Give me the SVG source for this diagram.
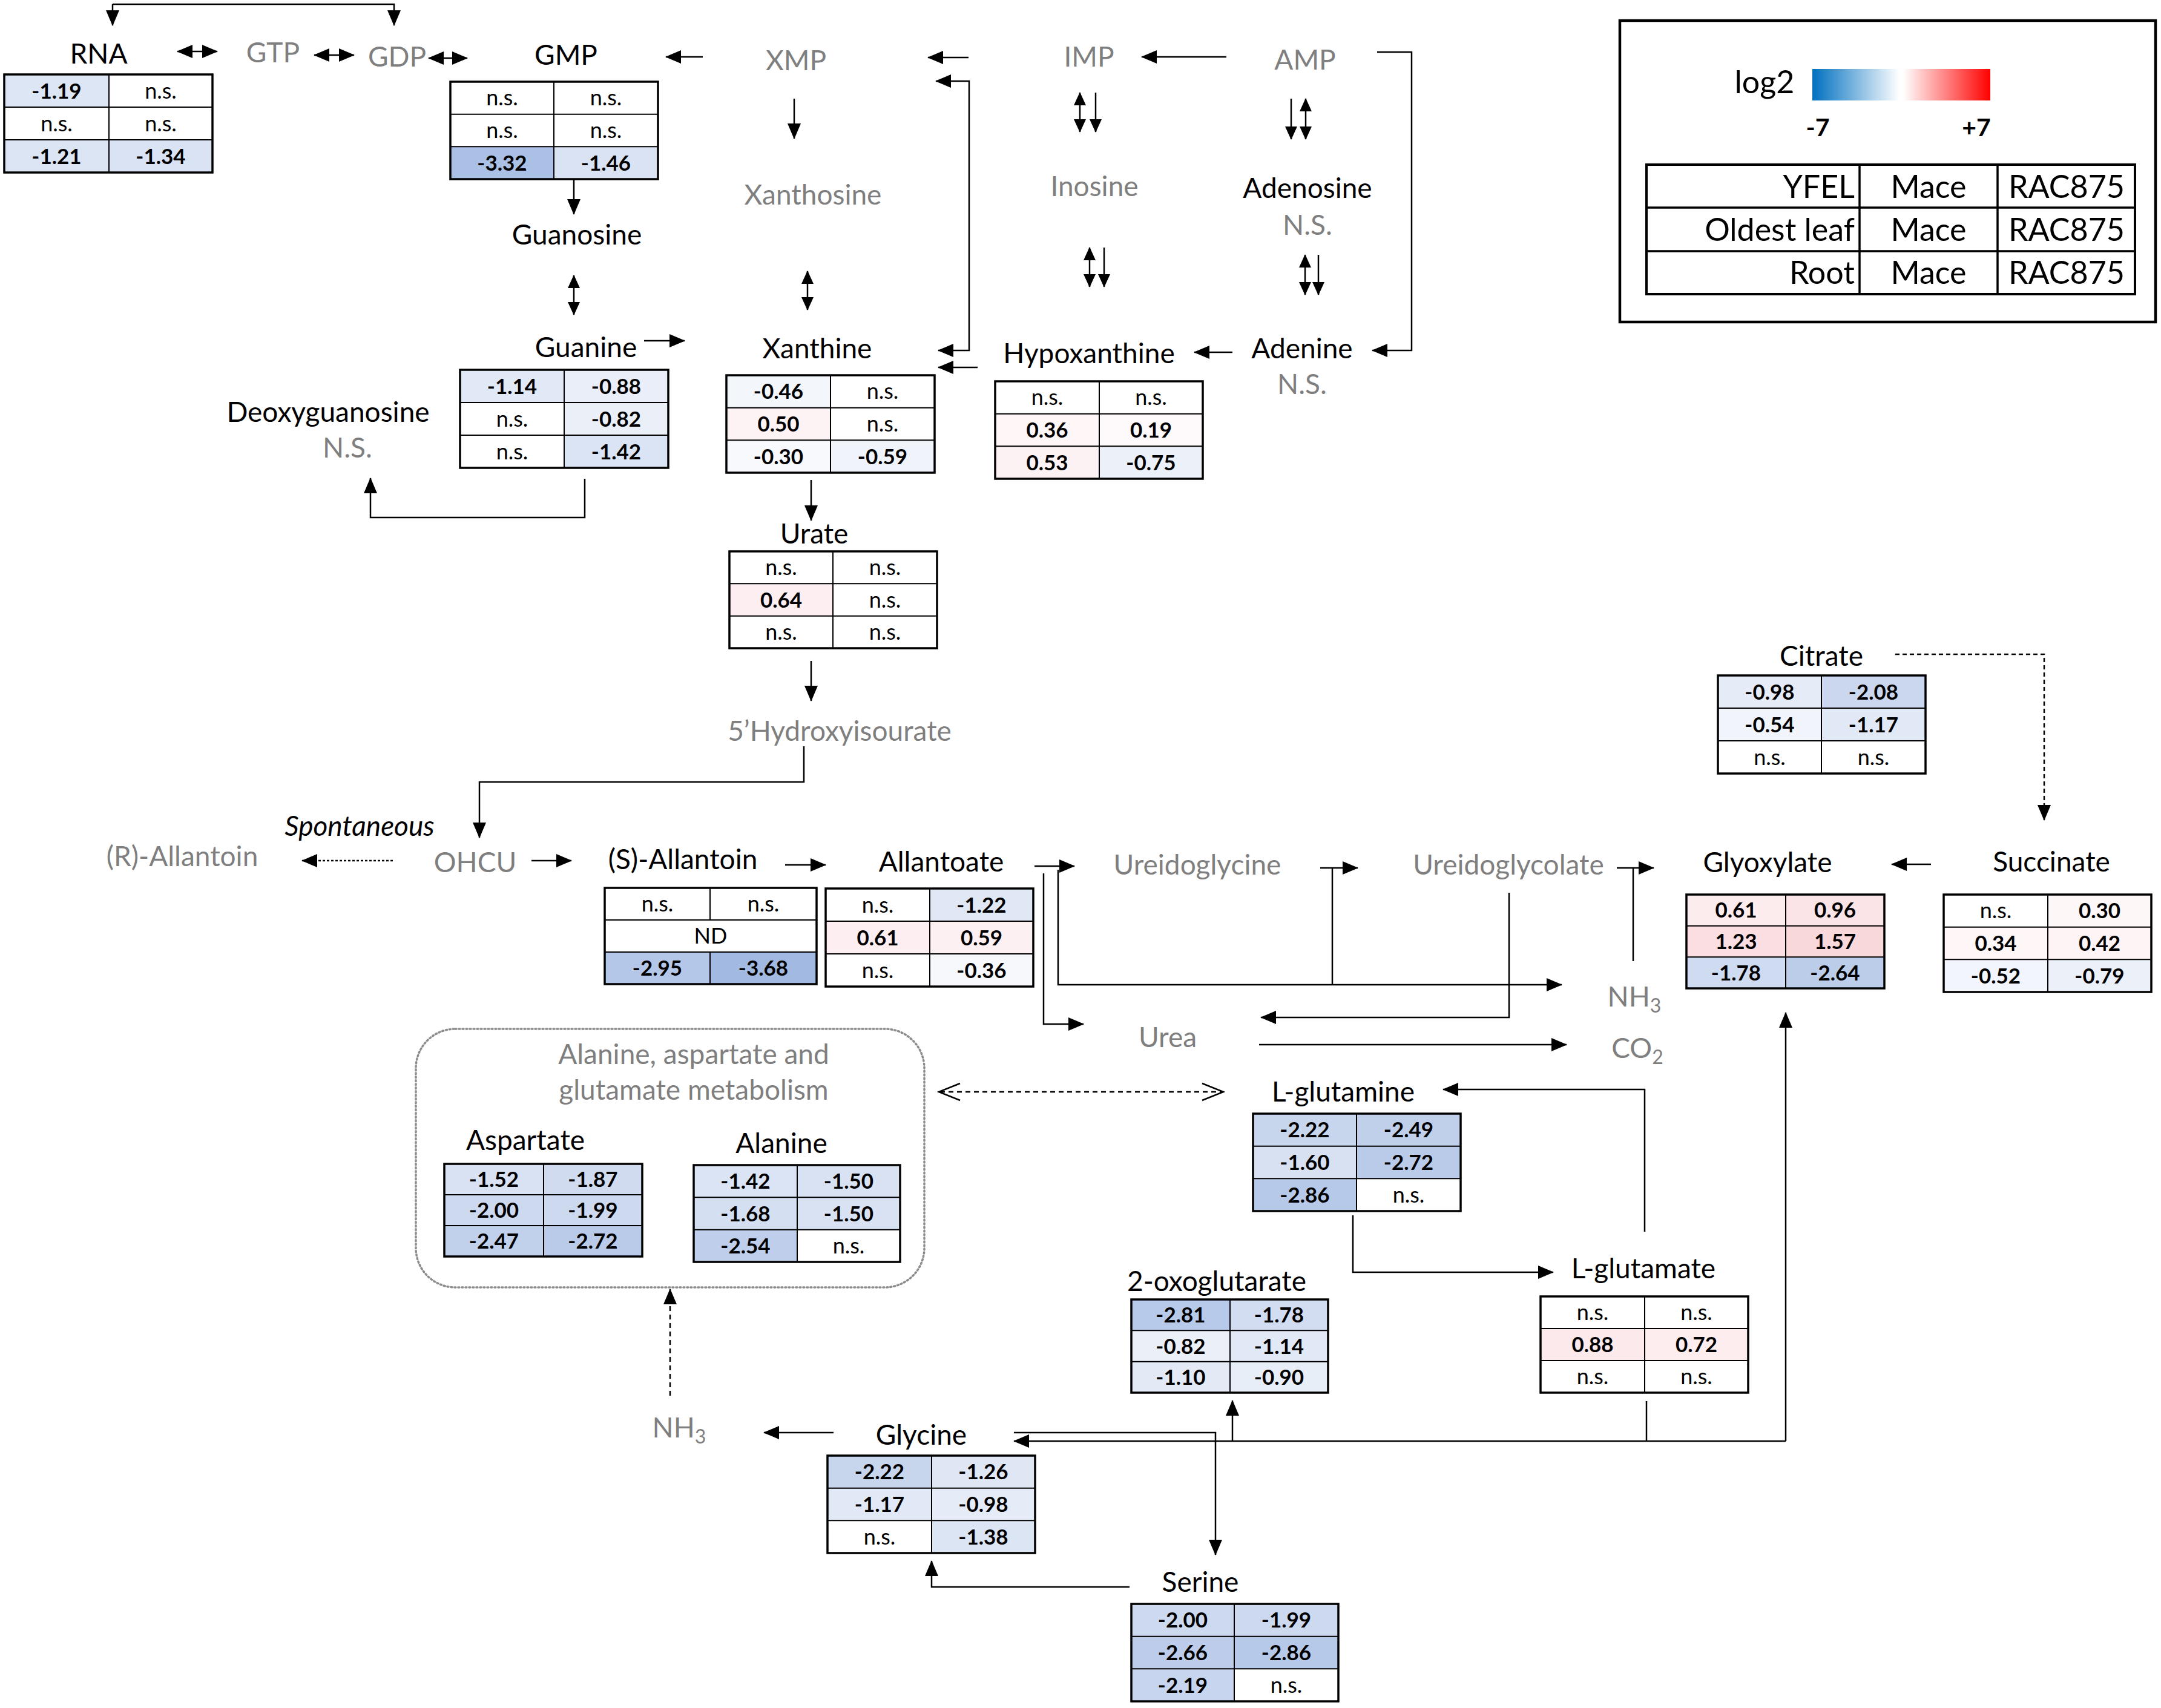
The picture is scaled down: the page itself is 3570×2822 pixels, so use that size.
<svg xmlns="http://www.w3.org/2000/svg" width="3570" height="2822" viewBox="0 0 3570 2822">
<defs>
<style>
text{font-family:Lato,"Liberation Sans",sans-serif}
.lb{font-size:46px;text-anchor:middle;fill:#000}
.g{fill:#7f7f7f}
.v{font-size:35px;font-weight:bold;text-anchor:middle;fill:#000}
.n{font-size:36px;font-weight:normal;text-anchor:middle;fill:#000}
.ob{fill:none;stroke:#000;stroke-width:3.5}
.il{stroke:#000;stroke-width:2;fill:none}
.c{fill:none;stroke:#000;stroke-width:2.5}
.lg{font-size:52px;fill:#000}
</style>
<marker id="ah" markerUnits="userSpaceOnUse" markerWidth="26" markerHeight="22" viewBox="0 0 26 22" refX="25" refY="11" orient="auto-start-reverse"><path d="M0,0 L26,11 L0,22 z" fill="#000"/></marker>
<marker id="as" markerUnits="userSpaceOnUse" markerWidth="22" markerHeight="20" viewBox="0 0 22 20" refX="21" refY="10" orient="auto-start-reverse"><path d="M0,0 L22,10 L0,20 z" fill="#000"/></marker>
<linearGradient id="grad" x1="0" y1="0" x2="1" y2="0">
<stop offset="0" stop-color="#0070c0"/>
<stop offset="0.49" stop-color="#ffffff"/>
<stop offset="0.51" stop-color="#ffffff"/>
<stop offset="1" stop-color="#ff0000"/>
</linearGradient>
</defs>
<rect width="3570" height="2822" fill="#fff"/>

<g id="connectors">
<path class="c" d="M186,7 V42" marker-end="url(#ah)"/>
<path class="c" d="M186,7 H651 V42" marker-end="url(#ah)"/>
<path class="c" d="M293,85 H359" marker-start="url(#ah)" marker-end="url(#ah)" stroke-width="4"/>
<path class="c" d="M519,91 H585" marker-start="url(#ah)" marker-end="url(#ah)" stroke-width="4"/>
<path class="c" d="M708,96 H772" marker-start="url(#ah)" marker-end="url(#ah)" stroke-width="4"/>
<path class="c" d="M1161,94 H1100" marker-end="url(#ah)"/>
<path class="c" d="M1600,95 H1533" marker-end="url(#ah)"/>
<path class="c" d="M2026,94 H1886" marker-end="url(#ah)"/>
<path class="c" d="M1546,134 H1601 V579 H1550" marker-start="url(#ah)" marker-end="url(#ah)"/>
<path class="c" d="M1615,607 H1550" marker-end="url(#ah)"/>
<path class="c" d="M2275,86 H2332 V579 H2267" marker-end="url(#ah)"/>
<path class="c" d="M2036,582 H1973" marker-end="url(#ah)"/>
<path class="c" d="M948,296 V354" marker-end="url(#ah)"/>
<path class="c" d="M948,455 V520" marker-start="url(#as)" marker-end="url(#as)"/>
<path class="c" d="M1312,163 V229" marker-end="url(#ah)"/>
<path class="c" d="M1334,448 V512" marker-start="url(#as)" marker-end="url(#as)"/>
<path class="c" d="M1784,153 V218" marker-start="url(#as)" marker-end="url(#as)"/>
<path class="c" d="M1810,153 V218" marker-end="url(#as)"/>
<path class="c" d="M2133,163 V230" marker-end="url(#as)"/>
<path class="c" d="M2157,163 V230" marker-start="url(#as)" marker-end="url(#as)"/>
<path class="c" d="M1800,409 V474" marker-start="url(#as)" marker-end="url(#as)"/>
<path class="c" d="M1824,409 V474" marker-end="url(#as)"/>
<path class="c" d="M2156,421 V487" marker-start="url(#as)" marker-end="url(#as)"/>
<path class="c" d="M2178,421 V487" marker-end="url(#as)"/>
<path class="c" d="M1064,563 H1131" marker-end="url(#ah)"/>
<path class="c" d="M966,791 V855 H612 V790" marker-end="url(#ah)"/>
<path class="c" d="M1340,793 V860" marker-end="url(#ah)"/>
<path class="c" d="M1340,1092 V1158" marker-end="url(#ah)"/>
<path class="c" d="M1328,1233 V1292 H792 V1384" marker-end="url(#ah)"/>
<path class="c" d="M649,1422 H499" stroke-dasharray="4 3" marker-end="url(#ah)"/>
<path class="c" d="M878,1422 H944" marker-end="url(#ah)" stroke-width="3.5"/>
<path class="c" d="M1297,1429 H1364" marker-end="url(#ah)" stroke-width="3.5"/>
<path class="c" d="M1709,1431 H1775" marker-end="url(#ah)" stroke-width="3"/>
<path class="c" d="M1724,1443 V1692 H1790" marker-end="url(#ah)"/>
<path class="c" d="M1748,1437 V1627 H2580" marker-end="url(#ah)"/>
<path class="c" d="M2181,1434 H2243" marker-end="url(#ah)"/>
<path class="c" d="M2201,1434 V1627"/>
<path class="c" d="M2493,1475 V1681 H2083" marker-end="url(#ah)"/>
<path class="c" d="M2671,1434 H2732" marker-end="url(#ah)"/>
<path class="c" d="M2698,1434 V1588"/>
<path class="c" d="M2080,1726 H2588" marker-end="url(#ah)"/>
<path class="c" d="M3131,1081 H3377 V1355" stroke-dasharray="7 5" marker-end="url(#ah)"/>
<path class="c" d="M3190,1428 H3125" marker-end="url(#ah)"/>
<path class="c" d="M1553,1804 H2019" stroke-dasharray="8 6"/>
<path class="c" d="M1586,1790 L1551,1804 L1586,1818"/>
<path class="c" d="M1986,1790 L2021,1804 L1986,1818"/>
<path class="c" d="M1107,2306 V2130" stroke-dasharray="8 6" marker-end="url(#ah)"/>
<path class="c" d="M1377,2367 H1262" marker-end="url(#ah)"/>
<path class="c" d="M2717,2035 V1800 H2384" marker-end="url(#ah)"/>
<path class="c" d="M2235,2008 V2102 H2566" marker-end="url(#ah)"/>
<path class="c" d="M2950,2381 H1675" marker-end="url(#ah)"/>
<path class="c" d="M1675,2367 H2008 V2569" marker-end="url(#ah)"/>
<path class="c" d="M2950,2381 V1673" marker-end="url(#ah)"/>
<path class="c" d="M2036,2381 V2314" marker-end="url(#ah)"/>
<path class="c" d="M2720,2315 V2381"/>
<path class="c" d="M1866,2622 H1539 V2579" marker-end="url(#ah)"/>
</g>

<g id="legend">
<rect x="2676" y="34" width="885" height="498" fill="none" stroke="#000" stroke-width="4.5"/>
<text class="lg" x="2915" y="154" text-anchor="middle">log2</text>
<rect x="2994" y="114" width="294" height="52" fill="url(#grad)"/>
<text x="3003" y="225" font-size="41" font-weight="bold" text-anchor="middle">-7</text>
<text x="3265" y="225" font-size="41" font-weight="bold" text-anchor="middle">+7</text>
<rect x="2720" y="272" width="807" height="214" fill="none" stroke="#000" stroke-width="4"/>
<path d="M3072,272V486M3300,272V486M2720,343H3527M2720,415H3527" stroke="#000" stroke-width="3.5" fill="none"/>
<text class="lg" x="3064" y="327" text-anchor="end">YFEL</text>
<text class="lg" x="3064" y="398" text-anchor="end">Oldest leaf</text>
<text class="lg" x="3064" y="469" text-anchor="end">Root</text>
<text class="lg" x="3186" y="327" text-anchor="middle">Mace</text>
<text class="lg" x="3186" y="398" text-anchor="middle">Mace</text>
<text class="lg" x="3186" y="469" text-anchor="middle">Mace</text>
<text class="lg" x="3414" y="327" text-anchor="middle">RAC875</text>
<text class="lg" x="3414" y="398" text-anchor="middle">RAC875</text>
<text class="lg" x="3414" y="469" text-anchor="middle">RAC875</text>
</g>

<g id="rna">
<text class="lb" x="163" y="105">RNA</text>
<rect x="7" y="123" width="173" height="54" fill="#dde6f4"/>
<rect x="7" y="231" width="173" height="54" fill="#dce5f4"/>
<rect x="180" y="231" width="171" height="54" fill="#d9e3f3"/>
<rect class="ob" x="7" y="123" width="344" height="162"/>
<path class="il" d="M180,123V285M7,177H351M7,231H351"/>
<text class="v" x="93.5" y="162.5">-1.19</text>
<text class="n" x="265.5" y="162.5">n.s.</text>
<text class="n" x="93.5" y="216.5">n.s.</text>
<text class="n" x="265.5" y="216.5">n.s.</text>
<text class="v" x="93.5" y="270.5">-1.21</text>
<text class="v" x="265.5" y="270.5">-1.34</text>
</g>

<g id="gtp"><text class="lb g" x="451" y="103">GTP</text></g>
<g id="gdp"><text class="lb g" x="656" y="110">GDP</text></g>

<g id="gmp">
<text class="lb" x="935" y="107">GMP</text>
<rect x="744" y="242.3" width="171" height="53.7" fill="#abc0e5"/>
<rect x="915" y="242.3" width="172" height="53.7" fill="#dae3f3"/>
<rect class="ob" x="744" y="135" width="343" height="161"/>
<path class="il" d="M915,135V296M744,188.7H1087M744,242.3H1087"/>
<text class="n" x="829.5" y="174.3">n.s.</text>
<text class="n" x="1001" y="174.3">n.s.</text>
<text class="n" x="829.5" y="228">n.s.</text>
<text class="n" x="1001" y="228">n.s.</text>
<text class="v" x="829.5" y="281.7">-3.32</text>
<text class="v" x="1001" y="281.7">-1.46</text>
</g>

<g id="xmp"><text class="lb g" x="1315" y="116">XMP</text></g>
<g id="imp"><text class="lb g" x="1799" y="110">IMP</text></g>
<g id="amp"><text class="lb g" x="2156" y="115">AMP</text></g>
<g id="guanosine"><text class="lb" x="953" y="404">Guanosine</text></g>
<g id="xanthosine"><text class="lb g" x="1343" y="338">Xanthosine</text></g>
<g id="inosine"><text class="lb g" x="1808" y="324">Inosine</text></g>
<g id="adenosine">
<text class="lb" x="2160" y="327">Adenosine</text>
<text class="lb g" x="2160" y="388">N.S.</text>
</g>

<g id="guanine">
<text class="lb" x="968" y="590">Guanine</text>
<rect x="760" y="611" width="172" height="54" fill="#e2e9f6"/>
<rect x="932" y="611" width="172" height="54" fill="#e9eef8"/>
<rect x="932" y="665" width="172" height="54" fill="#eaeff8"/>
<rect x="932" y="719" width="172" height="54" fill="#dbe4f4"/>
<rect class="ob" x="760" y="611" width="344" height="162"/>
<path class="il" d="M932,611V773M760,665H1104M760,719H1104"/>
<text class="v" x="846" y="650.5">-1.14</text>
<text class="v" x="1018" y="650.5">-0.88</text>
<text class="n" x="846" y="704.5">n.s.</text>
<text class="v" x="1018" y="704.5">-0.82</text>
<text class="n" x="846" y="758.5">n.s.</text>
<text class="v" x="1018" y="758.5">-1.42</text>
</g>

<g id="deoxyguanosine">
<text class="lb" x="542" y="697">Deoxyguanosine</text>
<text class="lb g" x="574" y="756">N.S.</text>
</g>

<g id="xanthine">
<text class="lb" x="1350" y="592">Xanthine</text>
<rect x="1200" y="620" width="172" height="53.7" fill="#f3f6fb"/>
<rect x="1200" y="673.7" width="172" height="53.6" fill="#fdf2f4"/>
<rect x="1200" y="727.3" width="172" height="53.7" fill="#f7f9fd"/>
<rect x="1372" y="727.3" width="172" height="53.7" fill="#f0f4fa"/>
<rect class="ob" x="1200" y="620" width="344" height="161"/>
<path class="il" d="M1372,620V781M1200,673.7H1544M1200,727.3H1544"/>
<text class="v" x="1286" y="659.3">-0.46</text>
<text class="n" x="1458" y="659.3">n.s.</text>
<text class="v" x="1286" y="713">0.50</text>
<text class="n" x="1458" y="713">n.s.</text>
<text class="v" x="1286" y="766.7">-0.30</text>
<text class="v" x="1458" y="766.7">-0.59</text>
</g>

<g id="hypoxanthine">
<text class="lb" x="1799" y="600">Hypoxanthine</text>
<rect x="1644" y="683.7" width="172" height="53.6" fill="#fef6f7"/>
<rect x="1816" y="683.7" width="171" height="53.6" fill="#fefafb"/>
<rect x="1644" y="737.3" width="172" height="53.7" fill="#fdf2f3"/>
<rect x="1816" y="737.3" width="171" height="53.7" fill="#ecf1f9"/>
<rect class="ob" x="1644" y="630" width="343" height="161"/>
<path class="il" d="M1816,630V791M1644,683.7H1987M1644,737.3H1987"/>
<text class="n" x="1730" y="669.3">n.s.</text>
<text class="n" x="1901.5" y="669.3">n.s.</text>
<text class="v" x="1730" y="723">0.36</text>
<text class="v" x="1901.5" y="723">0.19</text>
<text class="v" x="1730" y="776.7">0.53</text>
<text class="v" x="1901.5" y="776.7">-0.75</text>
</g>

<g id="adenine">
<text class="lb" x="2151" y="592">Adenine</text>
<text class="lb g" x="2151" y="651">N.S.</text>
</g>

<g id="urate">
<text class="lb" x="1345" y="898">Urate</text>
<rect x="1205" y="964.3" width="171" height="53.4" fill="#fdeff1"/>
<rect class="ob" x="1205" y="911" width="343" height="160"/>
<path class="il" d="M1376,911V1071M1205,964.3H1548M1205,1017.7H1548"/>
<text class="n" x="1290.5" y="950.2">n.s.</text>
<text class="n" x="1462" y="950.2">n.s.</text>
<text class="v" x="1290.5" y="1003.5">0.64</text>
<text class="n" x="1462" y="1003.5">n.s.</text>
<text class="n" x="1290.5" y="1056.8">n.s.</text>
<text class="n" x="1462" y="1056.8">n.s.</text>
</g>

<g id="hydroxyisourate"><text class="lb g" x="1387" y="1224">5’Hydroxyisourate</text></g>
<g id="spontaneous"><text class="lb" x="594" y="1381" font-style="italic" font-size="49">Spontaneous</text></g>
<g id="r-allantoin"><text class="lb g" x="301" y="1431">(R)-Allantoin</text></g>
<g id="ohcu"><text class="lb g" x="785" y="1441">OHCU</text></g>

<g id="s-allantoin">
<text class="lb" x="1128" y="1436">(S)-Allantoin</text>
<rect x="999" y="1573" width="174" height="53" fill="#b5c7e8"/>
<rect x="1173" y="1573" width="176" height="53" fill="#a2b9e2"/>
<rect class="ob" x="999" y="1467" width="350" height="159"/>
<path class="il" d="M1173,1467V1520M1173,1573V1626M999,1520H1349M999,1573H1349"/>
<text class="n" x="1086" y="1506">n.s.</text>
<text class="n" x="1261" y="1506">n.s.</text>
<text class="n" x="1174" y="1559">ND</text>
<text class="v" x="1086" y="1612">-2.95</text>
<text class="v" x="1261" y="1612">-3.68</text>
</g>

<g id="allantoate">
<text class="lb" x="1555" y="1440">Allantoate</text>
<rect x="1536" y="1468" width="171" height="54" fill="#e0e8f5"/>
<rect x="1364" y="1522" width="172" height="54" fill="#fdeff1"/>
<rect x="1536" y="1522" width="171" height="54" fill="#fdf0f2"/>
<rect x="1536" y="1576" width="171" height="54" fill="#f6f8fc"/>
<rect class="ob" x="1364" y="1468" width="343" height="162"/>
<path class="il" d="M1536,1468V1630M1364,1522H1707M1364,1576H1707"/>
<text class="n" x="1450" y="1507.5">n.s.</text>
<text class="v" x="1621.5" y="1507.5">-1.22</text>
<text class="v" x="1450" y="1561.5">0.61</text>
<text class="v" x="1621.5" y="1561.5">0.59</text>
<text class="n" x="1450" y="1615.5">n.s.</text>
<text class="v" x="1621.5" y="1615.5">-0.36</text>
</g>

<g id="ureidoglycine"><text class="lb g" x="1978" y="1445">Ureidoglycine</text></g>
<g id="ureidoglycolate"><text class="lb g" x="2492" y="1445">Ureidoglycolate</text></g>
<g id="nh3-a"><text class="lb g" x="2700" y="1663">NH<tspan font-size="32" dy="10">3</tspan></text></g>
<g id="urea"><text class="lb g" x="1929" y="1730">Urea</text></g>
<g id="co2"><text class="lb g" x="2705" y="1748">CO<tspan font-size="32" dy="10">2</tspan></text></g>

<g id="citrate">
<text class="lb" x="3009" y="1100">Citrate</text>
<rect x="2838" y="1116" width="171" height="54" fill="#e6ecf7"/>
<rect x="3009" y="1116" width="172" height="54" fill="#cbd7ee"/>
<rect x="2838" y="1170" width="171" height="54" fill="#f1f5fb"/>
<rect x="3009" y="1170" width="172" height="54" fill="#e1e9f6"/>
<rect class="ob" x="2838" y="1116" width="343" height="162"/>
<path class="il" d="M3009,1116V1278M2838,1170H3181M2838,1224H3181"/>
<text class="v" x="2923.5" y="1155.5">-0.98</text>
<text class="v" x="3095" y="1155.5">-2.08</text>
<text class="v" x="2923.5" y="1209.5">-0.54</text>
<text class="v" x="3095" y="1209.5">-1.17</text>
<text class="n" x="2923.5" y="1263.5">n.s.</text>
<text class="n" x="3095" y="1263.5">n.s.</text>
</g>

<g id="glyoxylate">
<text class="lb" x="2920" y="1441">Glyoxylate</text>
<rect x="2786" y="1478" width="164" height="51.7" fill="#fcecee"/>
<rect x="2950" y="1478" width="163" height="51.7" fill="#fbe4e7"/>
<rect x="2786" y="1529.7" width="164" height="51.6" fill="#fadee1"/>
<rect x="2950" y="1529.7" width="163" height="51.6" fill="#f9d8dc"/>
<rect x="2786" y="1581.3" width="164" height="51.7" fill="#cfdbf0"/>
<rect x="2950" y="1581.3" width="163" height="51.7" fill="#bccdea"/>
<rect class="ob" x="2786" y="1478" width="327" height="155"/>
<path class="il" d="M2950,1478V1633M2786,1529.7H3113M2786,1581.3H3113"/>
<text class="v" x="2868" y="1516.3">0.61</text>
<text class="v" x="3031.5" y="1516.3">0.96</text>
<text class="v" x="2868" y="1568">1.23</text>
<text class="v" x="3031.5" y="1568">1.57</text>
<text class="v" x="2868" y="1619.7">-1.78</text>
<text class="v" x="3031.5" y="1619.7">-2.64</text>
</g>

<g id="succinate">
<text class="lb" x="3389" y="1440">Succinate</text>
<rect x="3383" y="1478" width="171" height="53.7" fill="#fef7f8"/>
<rect x="3211" y="1531.7" width="172" height="53.6" fill="#fef6f7"/>
<rect x="3383" y="1531.7" width="171" height="53.6" fill="#fef4f6"/>
<rect x="3211" y="1585.3" width="172" height="53.7" fill="#f2f5fb"/>
<rect x="3383" y="1585.3" width="171" height="53.7" fill="#ebf0f9"/>
<rect class="ob" x="3211" y="1478" width="343" height="161"/>
<path class="il" d="M3383,1478V1639M3211,1531.7H3554M3211,1585.3H3554"/>
<text class="n" x="3297" y="1517.3">n.s.</text>
<text class="v" x="3468.5" y="1517.3">0.30</text>
<text class="v" x="3297" y="1571">0.34</text>
<text class="v" x="3468.5" y="1571">0.42</text>
<text class="v" x="3297" y="1624.7">-0.52</text>
<text class="v" x="3468.5" y="1624.7">-0.79</text>
</g>

<g id="ala-asp-glu">
<rect x="687" y="1700" width="840" height="427" rx="65" ry="65" fill="none" stroke="#8c8c8c" stroke-width="3.5" stroke-dasharray="2 4" stroke-linecap="round"/>
<text class="lb g" x="1146" y="1758">Alanine, aspartate and</text>
<text class="lb g" x="1146" y="1817">glutamate metabolism</text>
</g>

<g id="aspartate">
<text class="lb" x="868" y="1900">Aspartate</text>
<rect x="734" y="1923" width="164" height="51" fill="#d9e2f3"/>
<rect x="898" y="1923" width="163" height="51" fill="#d0dbf0"/>
<rect x="734" y="1974" width="164" height="51" fill="#ccd9ef"/>
<rect x="898" y="1974" width="163" height="51" fill="#cdd9ef"/>
<rect x="734" y="2025" width="164" height="51" fill="#c1d0eb"/>
<rect x="898" y="2025" width="163" height="51" fill="#bacbe9"/>
<rect class="ob" x="734" y="1923" width="327" height="153"/>
<path class="il" d="M898,1923V2076M734,1974H1061M734,2025H1061"/>
<text class="v" x="816" y="1961">-1.52</text>
<text class="v" x="979.5" y="1961">-1.87</text>
<text class="v" x="816" y="2012">-2.00</text>
<text class="v" x="979.5" y="2012">-1.99</text>
<text class="v" x="816" y="2063">-2.47</text>
<text class="v" x="979.5" y="2063">-2.72</text>
</g>

<g id="alanine">
<text class="lb" x="1291" y="1905">Alanine</text>
<rect x="1146" y="1925" width="171" height="53.3" fill="#dbe4f4"/>
<rect x="1317" y="1925" width="170" height="53.3" fill="#d9e2f3"/>
<rect x="1146" y="1978.3" width="171" height="53.4" fill="#d5dff2"/>
<rect x="1317" y="1978.3" width="170" height="53.4" fill="#d9e2f3"/>
<rect x="1146" y="2031.7" width="171" height="53.3" fill="#bfcfeb"/>
<rect class="ob" x="1146" y="1925" width="341" height="160"/>
<path class="il" d="M1317,1925V2085M1146,1978.3H1487M1146,2031.7H1487"/>
<text class="v" x="1231.5" y="1964.2">-1.42</text>
<text class="v" x="1402" y="1964.2">-1.50</text>
<text class="v" x="1231.5" y="2017.5">-1.68</text>
<text class="v" x="1402" y="2017.5">-1.50</text>
<text class="v" x="1231.5" y="2070.8">-2.54</text>
<text class="n" x="1402" y="2070.8">n.s.</text>
</g>

<g id="l-glutamine">
<text class="lb" x="2219" y="1820">L-glutamine</text>
<rect x="2070" y="1840" width="171" height="53.7" fill="#c7d5ed"/>
<rect x="2241" y="1840" width="172" height="53.7" fill="#c0d0eb"/>
<rect x="2070" y="1893.7" width="171" height="53.6" fill="#d7e1f2"/>
<rect x="2241" y="1893.7" width="172" height="53.6" fill="#bacbe9"/>
<rect x="2070" y="1947.3" width="171" height="53.7" fill="#b7c9e8"/>
<rect class="ob" x="2070" y="1840" width="343" height="161"/>
<path class="il" d="M2241,1840V2001M2070,1893.7H2413M2070,1947.3H2413"/>
<text class="v" x="2155.5" y="1879.3">-2.22</text>
<text class="v" x="2327" y="1879.3">-2.49</text>
<text class="v" x="2155.5" y="1933">-1.60</text>
<text class="v" x="2327" y="1933">-2.72</text>
<text class="v" x="2155.5" y="1986.7">-2.86</text>
<text class="n" x="2327" y="1986.7">n.s.</text>
</g>

<g id="l-glutamate">
<text class="lb" x="2715" y="2112">L-glutamate</text>
<rect x="2545" y="2195" width="172" height="53" fill="#fce9eb"/>
<rect x="2717" y="2195" width="171" height="53" fill="#fdedef"/>
<rect class="ob" x="2545" y="2142" width="343" height="159"/>
<path class="il" d="M2717,2142V2301M2545,2195H2888M2545,2248H2888"/>
<text class="n" x="2631" y="2181">n.s.</text>
<text class="n" x="2802.5" y="2181">n.s.</text>
<text class="v" x="2631" y="2234">0.88</text>
<text class="v" x="2802.5" y="2234">0.72</text>
<text class="n" x="2631" y="2287">n.s.</text>
<text class="n" x="2802.5" y="2287">n.s.</text>
</g>

<g id="oxoglutarate">
<text class="lb" x="2010" y="2133">2-oxoglutarate</text>
<rect x="1869" y="2147" width="163" height="51.3" fill="#b8cae9"/>
<rect x="2032" y="2147" width="162" height="51.3" fill="#d2ddf1"/>
<rect x="1869" y="2198.3" width="163" height="51.4" fill="#eaeff8"/>
<rect x="2032" y="2198.3" width="162" height="51.4" fill="#e2e9f6"/>
<rect x="1869" y="2249.7" width="163" height="51.3" fill="#e3eaf6"/>
<rect x="2032" y="2249.7" width="162" height="51.3" fill="#e8eef8"/>
<rect class="ob" x="1869" y="2147" width="325" height="154"/>
<path class="il" d="M2032,2147V2301M1869,2198.3H2194M1869,2249.7H2194"/>
<text class="v" x="1950.5" y="2185.2">-2.81</text>
<text class="v" x="2113" y="2185.2">-1.78</text>
<text class="v" x="1950.5" y="2236.5">-0.82</text>
<text class="v" x="2113" y="2236.5">-1.14</text>
<text class="v" x="1950.5" y="2287.8">-1.10</text>
<text class="v" x="2113" y="2287.8">-0.90</text>
</g>

<g id="nh3-b"><text class="lb g" x="1122" y="2375">NH<tspan font-size="32" dy="10">3</tspan></text></g>

<g id="glycine">
<text class="lb" x="1522" y="2387">Glycine</text>
<rect x="1367" y="2405" width="172" height="53.7" fill="#c7d5ed"/>
<rect x="1539" y="2405" width="171" height="53.7" fill="#dfe7f5"/>
<rect x="1367" y="2458.7" width="172" height="53.6" fill="#e1e9f6"/>
<rect x="1539" y="2458.7" width="171" height="53.6" fill="#e6ecf7"/>
<rect x="1539" y="2512.3" width="171" height="53.7" fill="#dce5f4"/>
<rect class="ob" x="1367" y="2405" width="343" height="161"/>
<path class="il" d="M1539,2405V2566M1367,2458.7H1710M1367,2512.3H1710"/>
<text class="v" x="1453" y="2444.3">-2.22</text>
<text class="v" x="1624.5" y="2444.3">-1.26</text>
<text class="v" x="1453" y="2498">-1.17</text>
<text class="v" x="1624.5" y="2498">-0.98</text>
<text class="n" x="1453" y="2551.7">n.s.</text>
<text class="v" x="1624.5" y="2551.7">-1.38</text>
</g>

<g id="serine">
<text class="lb" x="1983" y="2630">Serine</text>
<rect x="1869" y="2650" width="170" height="53.7" fill="#ccd9ef"/>
<rect x="2039" y="2650" width="172" height="53.7" fill="#cdd9ef"/>
<rect x="1869" y="2703.7" width="170" height="53.6" fill="#bcccea"/>
<rect x="2039" y="2703.7" width="172" height="53.6" fill="#b7c9e8"/>
<rect x="1869" y="2757.3" width="170" height="53.7" fill="#c8d5ee"/>
<rect class="ob" x="1869" y="2650" width="342" height="161"/>
<path class="il" d="M2039,2650V2811M1869,2703.7H2211M1869,2757.3H2211"/>
<text class="v" x="1954" y="2689.3">-2.00</text>
<text class="v" x="2125" y="2689.3">-1.99</text>
<text class="v" x="1954" y="2743">-2.66</text>
<text class="v" x="2125" y="2743">-2.86</text>
<text class="v" x="1954" y="2796.7">-2.19</text>
<text class="n" x="2125" y="2796.7">n.s.</text>
</g>
</svg>
